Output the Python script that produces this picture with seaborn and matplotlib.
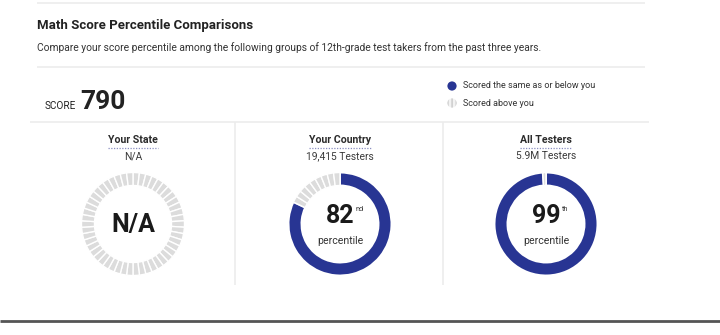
import math
import matplotlib
matplotlib.use("Agg")
import matplotlib.pyplot as plt
import seaborn as sns
from matplotlib.patches import Circle

# ---------------- data ----------------
title = "Math Score Percentile Comparisons"
subtitle = ("Compare your score percentile among the following groups of "
            "12th-grade test takers from the past three years.")
score_label = "SCORE"
score_value = "790"
legend_labels = ["Scored the same as or below you", "Scored above you"]
groups = ["Your State", "Your Country", "All Testers"]
tester_counts = ["N/A", "19,415 Testers", "5.9M Testers"]
percentiles = [None, 82, 99]
ordinal_suffix = ["", "nd", "th"]
center_caption = "percentile"
segment_step = 2  # percentile points per gray tick

# ---------------- style ----------------
sns.set_theme(style="white")
plt.rcParams['font.family'] = ['Roboto', 'DejaVu Sans']
plt.rcParams['hatch.linewidth'] = 1.0

blue = "#283593"
gray = "#dcdcdc"
rule = "#ececec"
dark = "#222222"

W, H = 720, 335
fig = plt.figure(figsize=(W / 100, H / 100), dpi=100)
ax = fig.add_axes([0, 0, 1, 1])


def reset_axes():
    ax.set_xlim(0, W)
    ax.set_ylim(H, 0)
    ax.set_aspect('auto')
    ax.axis('off')


centers_x = [133, 340, 546]
cy = 224
radius = 51.5
ring = 13

# ---------------- donuts (first, pie changes limits) ----------------
for cx, pct in zip(centers_x, percentiles):
    filled = 0 if pct is None else pct
    rem = 100 - filled
    n = math.ceil(rem / segment_step)
    segs = [segment_step] * (n - 1) + [rem - segment_step * (n - 1)]
    values = ([filled] if filled else []) + segs
    colors = ([blue] if filled else []) + [gray] * len(segs)
    wedges, _ = ax.pie(values, colors=colors, startangle=-90,
                       counterclock=True, radius=radius, center=(cx, cy),
                       wedgeprops=dict(width=ring, edgecolor='white',
                                       linewidth=1.0))
    if filled:
        wedges[0].set_linewidth(1.4)

reset_axes()
renderer = fig.canvas.get_renderer()

# ---------------- header ----------------
ax.hlines([3, 67], 37, 645, color=rule, lw=1.2)
ax.text(37, 25, title, fontsize=9.5, fontweight='bold', color=dark,
        ha='left', va='center')
ax.text(37, 48, subtitle, fontsize=7.35, color='#333333',
        ha='left', va='center')

# score
ax.text(45, 109, score_label, fontsize=7.2, color=dark, ha='left',
        va='baseline')
ax.text(80, 109, score_value, fontsize=19, fontweight='bold', color=dark,
        ha='left', va='baseline')

# legend
ax.add_patch(Circle((452, 86), 4.6, facecolor=blue, edgecolor='none'))
ax.add_patch(Circle((452, 103), 4.6, facecolor='#f2f2f2', edgecolor='#c8c8c8',
                    hatch='||||', lw=0))
for yy, lab in zip([86, 103], legend_labels):
    ax.text(463, yy, lab, fontsize=6.5, color='#333333', ha='left',
            va='center')

# panel rules
ax.hlines(122, 30, 649, color=rule, lw=1.2)
ax.vlines([235, 443], 122, 285, color=rule, lw=1.2)
ax.hlines(321, 0, W, color='#555555', lw=2)

# ---------------- panel texts ----------------
for cx, grp, cnt, pct, suf in zip(centers_x, groups, tester_counts,
                                  percentiles, ordinal_suffix):
    t = ax.text(cx, 140, grp, fontsize=7.6, fontweight='bold',
                color='#2b2b2b', ha='center', va='center')
    bb = t.get_window_extent(renderer)
    ax.plot([bb.x0, bb.x1], [147.5, 147.5], color='#8a8fc0', lw=0.9,
            ls=(0, (1, 1.2)))
    ax.text(cx, 156, cnt, fontsize=7.4, color='#3a3a3a', ha='center',
            va='center')

    if pct is None:
        ax.text(cx, cy + 1, "N/A", fontsize=18, fontweight='bold',
                color='#1a1a1a', ha='center', va='center')
    else:
        nt = ax.text(cx, cy - 8, str(pct), fontsize=18, fontweight='bold',
                     color='#1a1a1a', ha='center', va='center')
        nb = nt.get_window_extent(renderer)
        ax.text(nb.x1 + 1.5, H - nb.y1 + 2, suf, fontsize=5.2,
                color='#333333', ha='left', va='top')
        ax.text(cx, cy + 17, center_caption, fontsize=7.6, color='#333333',
                ha='center', va='center')

reset_axes()
fig.savefig("out.png", dpi=100)
